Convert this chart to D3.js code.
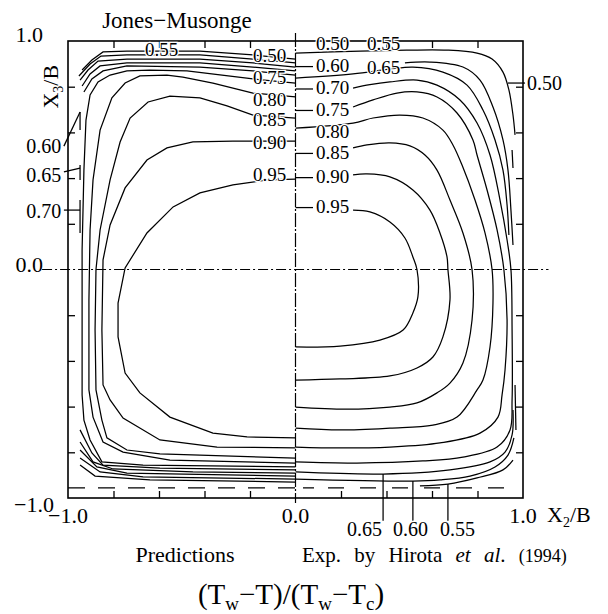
<!DOCTYPE html>
<html><head><meta charset="utf-8">
<script src="https://cdn.jsdelivr.net/npm/d3@7"></script>
<style>
body{margin:0;background:#fff}
text{font-family:"Liberation Serif","Times New Roman","DejaVu Serif",serif;fill:#000}
</style>
</head><body>
<svg id="c" width="608" height="614"></svg>
<script>
// ---------- data (x2/B, x3/B) ----------
const xTicks = [-0.8,-0.6,-0.4,-0.2,0.2,0.4,0.6,0.8];
const yTicks = [-0.8,-0.6,-0.4,-0.2,0.2,0.4,0.6,0.8];
const xTickLabels = [{v:-1,t:"\u22121.0"},{v:0,t:"0.0"},{v:1,t:"1.0"}];
const yTickLabels = [{v:1,t:"1.0"},{v:0,t:"0.0"},{v:-1,t:"\u22121.0"}];

// Predictions (left half)
const L95 = [[0,0.396],[-0.125,0.392],[-0.275,0.370],[-0.420,0.335],[-0.538,0.274],[-0.653,0.160],[-0.749,0.007],[-0.780,-0.147],[-0.780,-0.295],[-0.749,-0.453],[-0.684,-0.540],[-0.552,-0.646],[-0.363,-0.716],[-0.213,-0.733],[0,-0.737]];
const L90 = [[0,0.562],[-0.275,0.562],[-0.451,0.558],[-0.565,0.532],[-0.653,0.479],[-0.749,0.357],[-0.815,0.195],[-0.846,0.042],[-0.851,-0.265],[-0.846,-0.505],[-0.815,-0.571],[-0.758,-0.650],[-0.596,-0.746],[-0.345,-0.777],[0,-0.781]];
const L85 = [[0,0.663],[-0.187,0.676],[-0.301,0.716],[-0.420,0.751],[-0.552,0.759],[-0.648,0.733],[-0.727,0.663],[-0.771,0.558],[-0.815,0.392],[-0.859,0.173],[-0.877,0],[-0.881,-0.265],[-0.877,-0.527],[-0.851,-0.659],[-0.829,-0.737],[-0.741,-0.790],[-0.596,-0.807],[0,-0.825]];
const L80 = [[0,0.755],[-0.187,0.772],[-0.244,0.786],[-0.363,0.816],[-0.495,0.842],[-0.565,0.851],[-0.684,0.847],[-0.749,0.816],[-0.807,0.751],[-0.859,0.610],[-0.890,0.392],[-0.903,0.173],[-0.908,-0.133],[-0.908,-0.527],[-0.890,-0.646],[-0.846,-0.755],[-0.758,-0.799],[-0.552,-0.834],[0,-0.847]];
const L75 = [[0,0.816],[-0.187,0.834],[-0.477,0.869],[-0.640,0.873],[-0.741,0.869],[-0.815,0.851],[-0.868,0.821],[-0.903,0.764],[-0.921,0.654],[-0.930,0.435],[-0.938,0.085],[-0.938,-0.265],[-0.938,-0.549],[-0.930,-0.659],[-0.903,-0.746],[-0.851,-0.842],[-0.670,-0.856],[0,-0.864]];
const L70top = [[-0.930,0.777],[-0.895,0.834],[-0.846,0.869],[-0.741,0.891],[-0.420,0.886],[-0.187,0.869],[0,0.851]];
const L65top = [[-0.938,0.803],[-0.903,0.856],[-0.859,0.891],[-0.741,0.904],[-0.420,0.904],[-0.187,0.886],[0,0.869]];
const L60top = [[-0.947,0.829],[-0.912,0.873],[-0.868,0.912],[-0.741,0.921],[-0.420,0.921],[-0.187,0.904],[0,0.886]];
const L55top = [[-0.952,0.847],[-0.903,0.899],[-0.855,0.934],[-0.741,0.939],[-0.420,0.939],[-0.187,0.921],[0,0.904]];
const L50top = [[-0.938,0.873],[-0.895,0.917],[-0.846,0.952],[-0.741,0.956],[-0.420,0.956],[-0.187,0.939],[0,0.921]];
const L70wall = [[-0.947,0.304],[-0.947,0.160]];
const L65wall = [[-0.947,0.457],[-0.947,0.392]];
const L60wall = [[-0.947,0.689],[-0.947,0.610]];
const L70bot = [[-0.947,-0.702],[-0.895,-0.803],[-0.846,-0.856],[-0.596,-0.869],[0,-0.877]];
const L65bot = [[-0.947,-0.755],[-0.890,-0.842],[-0.802,-0.873],[-0.451,-0.886],[0,-0.891]];
const L60bot = [[-0.947,-0.790],[-0.873,-0.864],[-0.741,-0.891],[0,-0.904]];
const L55bot = [[-0.947,-0.825],[-0.859,-0.886],[-0.670,-0.908],[0,-0.917]];
const L50bot = [[-0.947,-0.856],[-0.881,-0.904],[-0.640,-0.921],[0,-0.930]];

// Experiment (right half)
const R95 = [[0.253,0.260],[0.327,0.252],[0.415,0.208],[0.481,0.138],[0.516,0.055],[0.534,0],[0.538,-0.120],[0.516,-0.190],[0.473,-0.265],[0.371,-0.309],[0.196,-0.335],[0,-0.339]];
const R90 = [[0.253,0.414],[0.314,0.418],[0.415,0.405],[0.516,0.348],[0.591,0.260],[0.635,0.160],[0.666,0.055],[0.670,0],[0.679,-0.133],[0.648,-0.295],[0.604,-0.383],[0.534,-0.431],[0.415,-0.466],[0.196,-0.479],[0,-0.484]];
const R85 = [[0.253,0.532],[0.314,0.545],[0.415,0.554],[0.503,0.541],[0.569,0.501],[0.622,0.435],[0.679,0.304],[0.736,0.160],[0.776,0],[0.776,-0.221],[0.736,-0.409],[0.679,-0.497],[0.622,-0.540],[0.534,-0.584],[0.415,-0.602],[0.226,-0.611],[0,-0.602]];
const R80 = [[0,0.619],[0.253,0.641],[0.341,0.663],[0.459,0.676],[0.560,0.663],[0.648,0.610],[0.692,0.545],[0.732,0.457],[0.789,0.304],[0.833,0.160],[0.864,0],[0.868,-0.147],[0.855,-0.339],[0.824,-0.484],[0.798,-0.527],[0.710,-0.646],[0.604,-0.681],[0.415,-0.694],[0.196,-0.702],[0,-0.694]];
const R75 = [[0.253,0.711],[0.341,0.742],[0.446,0.772],[0.534,0.777],[0.622,0.755],[0.710,0.685],[0.780,0.567],[0.798,0.501],[0.842,0.348],[0.886,0.173],[0.916,0],[0.930,-0.221],[0.921,-0.440],[0.908,-0.549],[0.890,-0.646],[0.811,-0.716],[0.635,-0.759],[0.415,-0.777],[0.196,-0.781],[0,-0.777]];
const R70 = [[0.253,0.794],[0.327,0.809],[0.415,0.821],[0.534,0.829],[0.622,0.807],[0.723,0.742],[0.798,0.641],[0.855,0.501],[0.899,0.304],[0.930,0.129],[0.947,0],[0.952,-0.265],[0.952,-0.571],[0.943,-0.702],[0.886,-0.777],[0.736,-0.821],[0.560,-0.838],[0.270,-0.847],[0,-0.842]];
const R65top = [[0,0.838],[0.253,0.856],[0.415,0.877],[0.516,0.886],[0.648,0.864],[0.754,0.807],[0.824,0.698],[0.877,0.567],[0.912,0.435],[0.930,0.282],[0.938,0.151]];
const R60top = [[0.481,0.904],[0.591,0.908],[0.736,0.886],[0.811,0.829],[0.868,0.711],[0.912,0.567],[0.934,0.435],[0.947,0.260],[0.956,0.107]];
const R55wall = [[0.952,0.523],[0.956,0.444]];
const R50top = [[0,0.947],[0.284,0.956],[0.490,0.960],[0.666,0.960],[0.798,0.947],[0.864,0.921],[0.912,0.864],[0.938,0.786],[0.956,0.676],[0.965,0.589]];
const R65bot = [[0.956,-0.615],[0.952,-0.724],[0.921,-0.799],[0.855,-0.842],[0.679,-0.877],[0.385,-0.895],[0,-0.886]];
const R60bot = [[0.960,-0.737],[0.934,-0.812],[0.877,-0.864],[0.767,-0.904],[0.635,-0.921],[0.516,-0.926],[0,-0.917]];
const R55bot = [[0.956,-0.834],[0.912,-0.877],[0.798,-0.912],[0.670,-0.939],[0.547,-0.947]];
const R50wall = [[0.965,-0.505],[0.969,-0.702]];

// contour labels (text anchor point in data units)
const leftLabels = [{t:"0.55",x:-0.662,y:0.934},{t:"0.50",x:-0.187,y:0.908},{t:"0.75",x:-0.187,y:0.811},{t:"0.80",x:-0.187,y:0.717},{t:"0.85",x:-0.187,y:0.628},{t:"0.90",x:-0.187,y:0.527},{t:"0.95",x:-0.187,y:0.387}];
const outerLeftLabels = [{t:"0.60",x:-1.03,y:0.510},{t:"0.65",x:-1.03,y:0.383},{t:"0.70",x:-1.03,y:0.225}];
const outerLeftLeaders = [[[-1.018,0.540],[-0.947,0.689]],[[-1.018,0.427],[-0.947,0.444]],[[-1.018,0.260],[-0.947,0.260]]];
const rightLabels = [{t:"0.50",x:0.090,y:0.960,lead:false},{t:"0.55",x:0.314,y:0.960,lead:false},{t:"0.60",x:0.090,y:0.864,lead:true},{t:"0.65",x:0.314,y:0.856,lead:false},{t:"0.70",x:0.090,y:0.766,lead:true},{t:"0.75",x:0.090,y:0.672,lead:true},{t:"0.80",x:0.090,y:0.577,lead:false},{t:"0.85",x:0.090,y:0.484,lead:true},{t:"0.90",x:0.090,y:0.378,lead:true},{t:"0.95",x:0.090,y:0.247,lead:true}];
const wallLabel = {t:"0.50",x:1.018,y:0.786};
const wallLeader = [[0.934,0.816],[1.009,0.816]];
const bottomLabels = [{t:"0.65",x:0.226,y:-1.168},{t:"0.60",x:0.429,y:-1.168},{t:"0.55",x:0.635,y:-1.168}];
const bottomLeaders = [[[0.385,-0.895],[0.385,-1.100]],[[0.516,-0.926],[0.516,-1.100]],[[0.670,-0.939],[0.670,-1.100]]];

// ---------- drawing ----------
const svg = d3.select("#c");
const xS = d3.scaleLinear().domain([-1,1]).range([68,523]);
const yS = d3.scaleLinear().domain([-1,1]).range([498,41]);

const lin = d3.line().x(d=>xS(d[0])).y(d=>yS(d[1]));
const smooth = d3.line().x(d=>xS(d[0])).y(d=>yS(d[1])).curve(d3.curveCatmullRom.alpha(0.5));

const leftSet = [L95,L90,L85,L80,L75,L70top,L65top,L60top,L55top,L50top,L70wall,L65wall,L60wall,L70bot,L65bot,L60bot,L55bot,L50bot];
const rightSet = [R95,R90,R85,R80,R75,R70,R65top,R60top,R55wall,R50top,R65bot,R60bot,R55bot,R50wall];

const g = svg.append("g").attr("fill","none").attr("stroke","#000").attr("stroke-width",1.25);
g.selectAll("path.l").data(leftSet).join("path").attr("class","l").attr("d",lin);
g.selectAll("path.r").data(rightSet).join("path").attr("class","r").attr("d",smooth);

// leaders
const leaders = [...outerLeftLeaders, wallLeader, ...bottomLeaders,
  ...rightLabels.filter(d=>d.lead).map(d=>[[0,d.y+0.024],[0.077,d.y+0.024]])];
g.selectAll("path.ld").data(leaders).join("path").attr("class","ld").attr("d",lin);

// axes (inward ticks)
const axG = svg.append("g");
axG.append("g").attr("transform",`translate(0,${yS(-1)})`).call(d3.axisBottom(xS).tickValues(xTicks).tickSize(-7).tickSizeOuter(0).tickFormat(""));
axG.append("g").attr("transform",`translate(0,${yS(1)})`).call(d3.axisTop(xS).tickValues(xTicks).tickSize(-7).tickSizeOuter(0).tickFormat(""));
axG.append("g").attr("transform",`translate(${xS(-1)},0)`).call(d3.axisLeft(yS).tickValues(yTicks).tickSize(-7).tickSizeOuter(0).tickFormat(""));
axG.append("g").attr("transform",`translate(${xS(1)},0)`).call(d3.axisRight(yS).tickValues(yTicks).tickSize(-7).tickSizeOuter(0).tickFormat(""));
axG.selectAll(".domain").remove();
axG.selectAll(".tick line").attr("stroke","#000").attr("stroke-width",1.3);

svg.append("rect").attr("x",xS(-1)).attr("y",yS(1)).attr("width",xS(1)-xS(-1)).attr("height",yS(-1)-yS(1))
  .attr("fill","none").attr("stroke","#000").attr("stroke-width",1.6);

// dash-dot centre lines
svg.append("line").attr("x1",xS(-1.114)).attr("x2",xS(1.112)).attr("y1",yS(0)).attr("y2",yS(0))
  .attr("stroke","#000").attr("stroke-width",1.2).attr("stroke-dasharray","10,3,2,3");
svg.append("line").attr("x1",xS(0)).attr("x2",xS(0)).attr("y1",yS(1.035)).attr("y2",yS(-1.022))
  .attr("stroke","#000").attr("stroke-width",1.2).attr("stroke-dasharray","14,2,2,2");
// dashed wall line near the bottom
svg.append("line").attr("x1",xS(-1)).attr("x2",xS(0)).attr("y1",yS(-0.956)).attr("y2",yS(-0.956))
  .attr("stroke","#000").attr("stroke-width",1.3).attr("stroke-dasharray","17,13");
svg.append("line").attr("x1",xS(0.033)).attr("x2",xS(0.930)).attr("y1",yS(-0.956)).attr("y2",yS(-0.956))
  .attr("stroke","#000").attr("stroke-width",1.3).attr("stroke-dasharray","11,14,16,16,16,16,16,16,16,16,16,16,16,16");

// contour labels
function lab(sel, arr, anchor, size){
  sel.selectAll(null).data(arr).join("text")
    .attr("x",d=>xS(d.x)).attr("y",d=>yS(d.y))
    .attr("text-anchor",anchor).attr("font-size",size)
    .attr("stroke","#fff").attr("stroke-width",2.5).attr("paint-order","stroke")
    .text(d=>d.t);
}
const tl = svg.append("g");
lab(tl, leftLabels, "start", 19);
lab(tl, rightLabels, "start", 19);
lab(tl, [wallLabel], "start", 20);
lab(tl, bottomLabels, "start", 20);
lab(tl, outerLeftLabels, "end", 20);

// tick labels
svg.selectAll("text.xt").data(xTickLabels).join("text").attr("class","xt")
  .attr("x",d=>xS(d.v)).attr("y",yS(-1)+25).attr("text-anchor","middle").attr("font-size",22).text(d=>d.t);
svg.selectAll("text.yt").data(yTickLabels).join("text").attr("class","yt")
  .attr("x",d=>d.v===-1?xS(-1)-14:xS(-1)-25)
  .attr("y",d=>d.v===1?yS(1)+1:(d.v===0?yS(0)+2:yS(-1)+14))
  .attr("text-anchor","end").attr("font-size",22).text(d=>d.t);

// axis titles
const x2 = svg.append("text").attr("x",xS(1)+24).attr("y",yS(-1)+24).attr("font-size",22);
x2.append("tspan").text("X");
x2.append("tspan").attr("font-size",14).attr("dy",5).text("2");
x2.append("tspan").attr("dy",-5).text("/B");

const x3 = svg.append("text").attr("transform",`translate(${xS(-1)-10},${yS(0.80)}) rotate(-90)`)
  .attr("text-anchor","middle").attr("font-size",22);
x3.append("tspan").text("X");
x3.append("tspan").attr("font-size",14).attr("dy",5).text("3");
x3.append("tspan").attr("dy",-5).text("/B");

svg.append("text").attr("x",177).attr("y",28).attr("text-anchor","middle").attr("font-size",23).text("Jones\u2212Musonge");
svg.append("text").attr("x",185).attr("y",562).attr("text-anchor","middle").attr("font-size",22).text("Predictions");

const ex = svg.append("text").attr("x",302).attr("y",562).attr("font-size",21).attr("word-spacing",8);
ex.append("tspan").text("Exp. by Hirota ");
ex.append("tspan").attr("font-style","italic").text("et al");
ex.append("tspan").text(". ");
ex.append("tspan").attr("font-size",18).text("(1994)");

const f = svg.append("text").attr("x",291).attr("y",604).attr("text-anchor","middle").attr("font-size",29);
f.append("tspan").text("(T");
f.append("tspan").attr("font-size",19).attr("dy",6).text("w");
f.append("tspan").attr("dy",-6).text("\u2212T)/(T");
f.append("tspan").attr("font-size",19).attr("dy",6).text("w");
f.append("tspan").attr("dy",-6).text("\u2212T");
f.append("tspan").attr("font-size",19).attr("dy",6).text("c");
f.append("tspan").attr("dy",-6).text(")");
</script>
</body></html>
